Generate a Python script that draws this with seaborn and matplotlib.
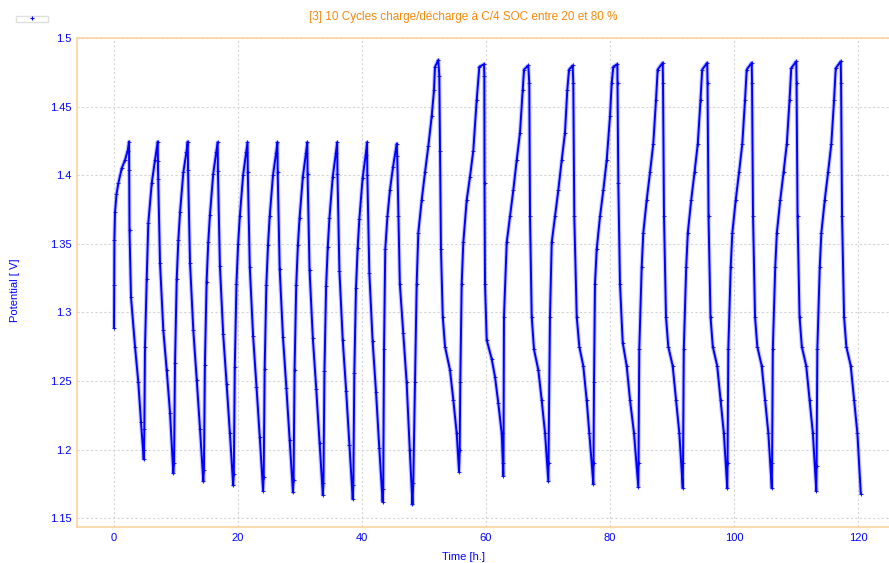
import matplotlib
matplotlib.use("Agg")
import matplotlib.pyplot as plt
from matplotlib.lines import Line2D
from matplotlib.ticker import FuncFormatter
import pandas as pd
import seaborn as sns

# cycles 1-10 : C/4, 20-80 % SOC (time in h, potential in V)
c01_t = [0.00, 0.03, 0.06, 0.16, 0.40, 0.69, 1.24, 1.77, 2.21, 2.42, 2.45, 2.50, 2.74, 3.39, 3.92, 4.35, 4.79]
c01_v = [1.289, 1.320, 1.353, 1.373, 1.386, 1.394, 1.405, 1.411, 1.418, 1.4245, 1.404, 1.360, 1.311, 1.275, 1.249, 1.220, 1.193]
c02_t = [4.84, 4.89, 5.00, 5.27, 5.53, 6.08, 6.61, 7.05, 7.08, 7.13, 7.42, 7.95, 8.50, 9.03, 9.56]
c02_v = [1.200, 1.215, 1.275, 1.324, 1.365, 1.394, 1.411, 1.4245, 1.410, 1.397, 1.336, 1.287, 1.258, 1.227, 1.183]
c03_t = [9.68, 9.84, 10.11, 10.38, 10.65, 11.18, 11.68, 11.89, 11.94, 12.26, 12.79, 13.34, 13.87, 14.40]
c03_v = [1.190, 1.263, 1.324, 1.353, 1.373, 1.402, 1.417, 1.4245, 1.404, 1.336, 1.287, 1.251, 1.215, 1.177]
c04_t = [14.50, 14.66, 14.93, 15.20, 15.47, 16.00, 16.50, 16.71, 16.76, 17.08, 17.61, 18.16, 18.69, 19.22]
c04_v = [1.185, 1.262, 1.322, 1.351, 1.371, 1.401, 1.417, 1.424, 1.403, 1.334, 1.284, 1.248, 1.212, 1.174]
c05_t = [19.32, 19.48, 19.75, 20.02, 20.29, 20.82, 21.32, 21.53, 21.58, 21.90, 22.43, 22.98, 23.51, 24.04]
c05_v = [1.182, 1.260, 1.321, 1.350, 1.370, 1.400, 1.417, 1.424, 1.402, 1.333, 1.283, 1.246, 1.209, 1.170]
c06_t = [24.14, 24.30, 24.57, 24.84, 25.11, 25.64, 26.14, 26.35, 26.40, 26.72, 27.25, 27.80, 28.33, 28.86]
c06_v = [1.180, 1.259, 1.320, 1.349, 1.370, 1.400, 1.416, 1.424, 1.402, 1.332, 1.282, 1.245, 1.207, 1.169]
c07_t = [28.96, 29.12, 29.39, 29.66, 29.93, 30.46, 30.96, 31.17, 31.22, 31.54, 32.07, 32.62, 33.15, 33.68]
c07_v = [1.178, 1.258, 1.320, 1.349, 1.369, 1.399, 1.416, 1.424, 1.401, 1.331, 1.281, 1.244, 1.205, 1.167]
c08_t = [33.78, 33.94, 34.21, 34.48, 34.75, 35.28, 35.78, 35.99, 36.04, 36.36, 36.89, 37.44, 37.97, 38.50]
c08_v = [1.176, 1.257, 1.319, 1.348, 1.369, 1.399, 1.416, 1.424, 1.401, 1.330, 1.280, 1.243, 1.203, 1.164]
c09_t = [38.60, 38.76, 39.03, 39.30, 39.57, 40.10, 40.60, 40.81, 40.86, 41.18, 41.71, 42.26, 42.79, 43.32]
c09_v = [1.174, 1.256, 1.318, 1.347, 1.368, 1.398, 1.415, 1.424, 1.400, 1.329, 1.279, 1.242, 1.201, 1.162]
c10_t = [43.42, 43.55, 43.75, 44.10, 44.50, 45.00, 45.60, 45.68, 45.88, 46.10, 46.65, 47.20, 47.70, 48.14]
c10_v = [1.171, 1.273, 1.346, 1.370, 1.389, 1.406, 1.423, 1.414, 1.370, 1.321, 1.285, 1.249, 1.200, 1.160]

# cycles 11-20
c11_t = [48.27, 48.55, 48.82, 49.08, 49.63, 50.16, 50.69, 51.24, 51.61, 51.77, 52.31,
         52.47, 52.58, 52.74, 53.02, 53.39, 54.19, 54.73, 55.27, 55.65]
c11_v = [1.176, 1.249, 1.321, 1.358, 1.382, 1.402, 1.421, 1.443, 1.462, 1.479, 1.484,
         1.472, 1.418, 1.346, 1.297, 1.275, 1.258, 1.236, 1.212, 1.184]
c12_t = [55.76, 55.85, 56.08, 56.34, 56.89, 57.42, 57.95, 58.50, 58.92, 59.68,
         59.73, 59.76, 59.84, 60.11, 60.92, 61.45, 61.98, 62.53, 62.79]
c12_v = [1.200, 1.249, 1.321, 1.351, 1.382, 1.399, 1.418, 1.455, 1.479, 1.481,
         1.472, 1.394, 1.321, 1.280, 1.266, 1.253, 1.234, 1.212, 1.181]
c13_t = [62.82, 62.90, 63.34, 63.87, 64.40, 64.95, 65.48, 65.92, 66.13, 66.82,
         66.98, 67.10, 67.37, 67.74, 68.44, 68.98, 69.52, 70.05]
c13_v = [1.190, 1.297, 1.351, 1.370, 1.389, 1.411, 1.431, 1.462, 1.477, 1.480,
         1.467, 1.370, 1.297, 1.273, 1.258, 1.236, 1.212, 1.177]
c14_t = [70.08, 70.32, 70.60, 71.13, 71.66, 72.21, 72.74, 73.11, 73.39, 73.98,
         74.08, 74.24, 74.63, 75.05, 75.69, 76.24, 76.66, 77.31]
c14_v = [1.190, 1.297, 1.351, 1.370, 1.389, 1.411, 1.431, 1.462, 1.477, 1.480,
         1.467, 1.370, 1.297, 1.275, 1.261, 1.236, 1.212, 1.175]
c15_t = [77.34, 77.42, 77.58, 77.85, 78.39, 78.92, 79.47, 80.00, 80.27, 80.53, 81.18,
         81.21, 81.34, 81.61, 82.05, 82.69, 83.23, 83.87, 84.56]
c15_v = [1.190, 1.249, 1.321, 1.346, 1.370, 1.389, 1.411, 1.443, 1.467, 1.479, 1.481,
         1.467, 1.394, 1.321, 1.278, 1.261, 1.236, 1.212, 1.173]
c16_t = [84.60, 84.72, 85.11, 85.37, 85.92, 86.45, 86.98, 87.42, 87.69, 88.50,
         88.55, 88.71, 89.03, 89.40, 90.11, 90.65, 91.18, 91.73]
c16_v = [1.190, 1.273, 1.333, 1.358, 1.382, 1.402, 1.423, 1.455, 1.477, 1.482,
         1.467, 1.370, 1.297, 1.275, 1.261, 1.236, 1.212, 1.172]
c17_t = [91.78, 91.90, 92.29, 92.55, 93.10, 93.63, 94.16, 94.60, 94.87, 95.68,
         95.73, 95.89, 96.21, 96.58, 97.29, 97.83, 98.36, 98.91]
c17_v = [1.190, 1.273, 1.333, 1.358, 1.382, 1.402, 1.423, 1.455, 1.477, 1.482,
         1.467, 1.370, 1.297, 1.275, 1.261, 1.236, 1.212, 1.172]
c18_t = [98.96, 99.08, 99.47, 99.73, 100.28, 100.81, 101.34, 101.78, 102.05, 102.86,
         102.91, 103.07, 103.39, 103.76, 104.47, 105.01, 105.54, 106.09]
c18_v = [1.190, 1.273, 1.333, 1.358, 1.382, 1.402, 1.423, 1.455, 1.477, 1.482,
         1.467, 1.370, 1.297, 1.275, 1.261, 1.236, 1.212, 1.172]
c19_t = [106.14, 106.26, 106.65, 106.91, 107.46, 107.99, 108.52, 108.96, 109.23, 110.04,
         110.09, 110.25, 110.57, 110.94, 111.65, 112.19, 112.72, 113.27]
c19_v = [1.190, 1.273, 1.333, 1.358, 1.382, 1.402, 1.423, 1.455, 1.478, 1.483,
         1.467, 1.370, 1.297, 1.275, 1.261, 1.236, 1.212, 1.170]
c20_t = [113.32, 113.44, 113.83, 114.09, 114.64, 115.17, 115.70, 116.14, 116.41, 117.22,
         117.27, 117.43, 117.75, 118.12, 118.83, 119.37, 119.90, 120.45]
c20_v = [1.188, 1.273, 1.333, 1.358, 1.382, 1.402, 1.423, 1.455, 1.478, 1.483,
         1.467, 1.370, 1.297, 1.275, 1.261, 1.236, 1.212, 1.168]

x_ticks = [0, 20, 40, 60, 80, 100, 120]
y_ticks = [1.15, 1.2, 1.25, 1.3, 1.35, 1.4, 1.45, 1.5]

title = "[3] 10 Cycles charge/décharge à C/4 SOC entre 20 et 80 %"

cycles = [(c01_t, c01_v), (c02_t, c02_v), (c03_t, c03_v), (c04_t, c04_v), (c05_t, c05_v),
          (c06_t, c06_v), (c07_t, c07_v), (c08_t, c08_v), (c09_t, c09_v), (c10_t, c10_v),
          (c11_t, c11_v), (c12_t, c12_v), (c13_t, c13_v), (c14_t, c14_v), (c15_t, c15_v),
          (c16_t, c16_v), (c17_t, c17_v), (c18_t, c18_v), (c19_t, c19_v), (c20_t, c20_v)]

rows = []
for i, (ts, vs) in enumerate(cycles):
    for t, v in zip(ts, vs):
        rows.append({"time": t, "potential": v, "cycle": i + 1})
df = pd.DataFrame(rows)

sns.set_theme(style="white")
plt.rcParams["font.family"] = ["Liberation Sans", "DejaVu Sans"]

blue = "#0000ff"
orange = "#f58a0a"
spine = "#fcd3a0"

fig = plt.figure(figsize=(8.89, 5.63), dpi=100)
ax = fig.add_axes([77 / 889, 1 - 527 / 563, 1 - 77 / 889, (527 - 38) / 563])

# pale halo first, then the dense blue trace with small + markers
sns.lineplot(data=df, x="time", y="potential", sort=False, estimator=None,
             color="#8c8cff", lw=3.0, alpha=0.5, ax=ax, legend=False)
sns.lineplot(data=df, x="time", y="potential", sort=False, estimator=None,
             color=blue, lw=1.4, marker="+", markersize=3, markeredgewidth=0.6,
             markeredgecolor=blue, ax=ax, legend=False)

ax.set_xlim(-5.97, 125.0)
ax.set_ylim(1.1436, 1.5)
ax.set_xticks(x_ticks)
ax.set_yticks(y_ticks)
ax.yaxis.set_major_formatter(FuncFormatter(lambda v, p: f"{v:g}"))
ax.tick_params(axis="both", length=0, labelsize=8, labelcolor=blue, pad=4)
ax.grid(True, color="#d4d4d4", linestyle=(0, (2, 2)), linewidth=0.8)

for s in ["left", "bottom", "top"]:
    ax.spines[s].set_color(spine)
    ax.spines[s].set_linewidth(1.2)
ax.spines["right"].set_visible(False)

ax.set_xlabel("")
ax.set_ylabel("")
fig.text(463 / 889, 1 - 557 / 563, "Time [h.]", color=blue, fontsize=8, ha="center", va="center")
fig.text(15 / 889, 1 - 290 / 563, "Potential [ V]", color=blue, fontsize=8, rotation=90,
         ha="center", va="center")
fig.text(463 / 889, 1 - 17 / 563, title, color=orange, fontsize=8.5, ha="center", va="center")

handle = Line2D([], [], ls="", marker="+", color=blue, markersize=3, markeredgewidth=0.8)
fig.legend(handles=[handle], labels=[""], loc="upper left",
           bbox_to_anchor=(13 / 889, 1 - 13 / 563), frameon=True, fancybox=False,
           edgecolor="#d8d8d8", handlelength=5.6, borderpad=0.1, handletextpad=0,
           fontsize=4)

fig.savefig("out.png", dpi=100)
